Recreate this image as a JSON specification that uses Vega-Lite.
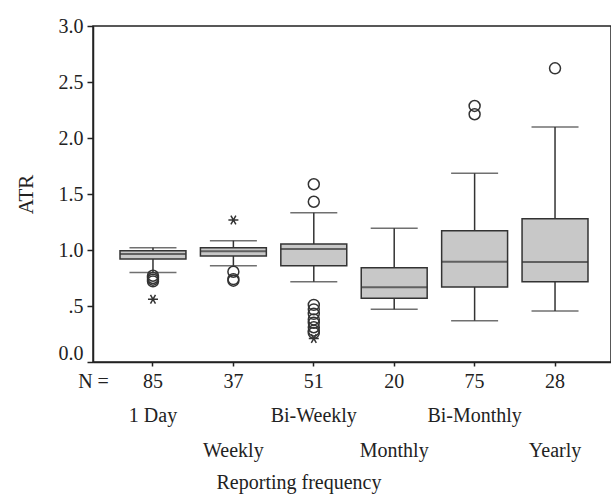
{
  "$schema": "https://vega.github.io/schema/vega-lite/v6.json",
  "autosize": {"type": "none"},
  "padding": {"left": 93, "top": 26, "right": 0, "bottom": 139},
  "width": 518,
  "height": 336,
  "background": "white",
  "config": {
    "view": {"stroke": "#222", "strokeWidth": 1.5},
    "axis": {
      "labelFont": "Liberation Serif", "labelFontSize": 20, "labelColor": "#222",
      "titleFont": "Liberation Serif", "titleFontSize": 20, "titleFontWeight": "normal", "titleColor": "#222",
      "domainColor": "#222", "domainWidth": 1.5, "tickColor": "#222", "tickWidth": 1.5, "grid": false
    }
  },
  "title": {
    "text": "Reporting frequency", "orient": "bottom", "anchor": "middle", "frame": "group",
    "dx": -53, "offset": 13, "font": "Liberation Serif", "fontSize": 20, "fontWeight": "normal", "color": "#222"
  },
  "datasets": {
    "boxes": [
      {"cat": "1 Day", "n": 85, "lo": 0.80, "q1": 0.92, "med": 0.964, "q3": 0.994, "hi": 1.02},
      {"cat": "Weekly", "n": 37, "lo": 0.86, "q1": 0.946, "med": 0.988, "q3": 1.02, "hi": 1.083},
      {"cat": "Bi-Weekly", "n": 51, "lo": 0.717, "q1": 0.86, "med": 1.009, "q3": 1.054, "hi": 1.333},
      {"cat": "Monthly", "n": 20, "lo": 0.471, "q1": 0.569, "med": 0.667, "q3": 0.842, "hi": 1.194},
      {"cat": "Bi-Monthly", "n": 75, "lo": 0.369, "q1": 0.67, "med": 0.896, "q3": 1.172, "hi": 1.685},
      {"cat": "Yearly", "n": 28, "lo": 0.455, "q1": 0.717, "med": 0.893, "q3": 1.279, "hi": 2.098}
    ],
    "outliers": [
      {"cat": "1 Day", "v": 0.77, "kind": "o"},
      {"cat": "1 Day", "v": 0.75, "kind": "o"},
      {"cat": "1 Day", "v": 0.735, "kind": "o"},
      {"cat": "1 Day", "v": 0.72, "kind": "o"},
      {"cat": "1 Day", "v": 0.56, "kind": "*"},
      {"cat": "Weekly", "v": 0.806, "kind": "o"},
      {"cat": "Weekly", "v": 0.74, "kind": "o"},
      {"cat": "Weekly", "v": 0.726, "kind": "o"},
      {"cat": "Weekly", "v": 1.268, "kind": "*"},
      {"cat": "Bi-Weekly", "v": 1.587, "kind": "o"},
      {"cat": "Bi-Weekly", "v": 1.431, "kind": "o"},
      {"cat": "Bi-Weekly", "v": 0.51, "kind": "o"},
      {"cat": "Bi-Weekly", "v": 0.47, "kind": "o"},
      {"cat": "Bi-Weekly", "v": 0.43, "kind": "o"},
      {"cat": "Bi-Weekly", "v": 0.38, "kind": "o"},
      {"cat": "Bi-Weekly", "v": 0.35, "kind": "o"},
      {"cat": "Bi-Weekly", "v": 0.31, "kind": "o"},
      {"cat": "Bi-Weekly", "v": 0.28, "kind": "o"},
      {"cat": "Bi-Weekly", "v": 0.26, "kind": "o"},
      {"cat": "Bi-Weekly", "v": 0.21, "kind": "*"},
      {"cat": "Bi-Monthly", "v": 2.286, "kind": "o"},
      {"cat": "Bi-Monthly", "v": 2.212, "kind": "o"},
      {"cat": "Yearly", "v": 2.622, "kind": "o"}
    ]
  },
  "encoding": {
    "x": {
      "field": "cat", "type": "nominal",
      "scale": {"domain": ["1 Day", "Weekly", "Bi-Weekly", "Monthly", "Bi-Monthly", "Yearly"], "paddingInner": 0.18, "paddingOuter": 0.311, "align": 0.54},
      "axis": {
        "title": "N =", "titleX": 0, "titleY": 19, "titleAlign": "center", "titleBaseline": "middle",
        "labelAngle": 0, "labelBaseline": "top", "labelLineHeight": 34.5, "labelPadding": 5, "tickSize": 4,
        "labelOverlap": false, "labelBound": false, "labelFlush": false, "labelLimit": 0,
        "labelExpr": "datum.value=='1 Day'?['85','1 Day','\u200b']:datum.value=='Weekly'?['37','\u200b','Weekly']:datum.value=='Bi-Weekly'?['51','Bi-Weekly','\u200b']:datum.value=='Monthly'?['20','\u200b','Monthly']:datum.value=='Bi-Monthly'?['75','Bi-Monthly','\u200b']:['28','\u200b','Yearly']"
      }
    },
    "y": {
      "type": "quantitative", "scale": {"domain": [0, 3], "nice": false, "zero": false},
      "axis": {
        "title": "ATR", "values": [0, 0.5, 1, 1.5, 2, 2.5, 3],
        "labelExpr": "datum.value == 0.5 ? '.5' : format(datum.value, '.1f')",
        "tickSize": 6, "labelPadding": 4,
        "labelOffset": {"condition": {"test": "datum.value === 0", "value": -9}, "value": 0},
        "titleAngle": -90, "titleX": -67, "titleY": 168, "titleAlign": "center", "titleBaseline": "middle", "titleFontSize": 21
      }
    }
  },
  "layer": [
    {
      "data": {"name": "boxes"},
      "mark": {"type": "rule", "color": "#333", "strokeWidth": 1.5},
      "encoding": {"y": {"field": "lo"}, "y2": {"field": "hi"}}
    },
    {
      "data": {"name": "boxes"},
      "mark": {"type": "bar", "fill": "#c8c8c8", "stroke": "#333", "strokeWidth": 1.5},
      "encoding": {"y": {"field": "q1"}, "y2": {"field": "q3"}}
    },
    {
      "data": {"name": "boxes"},
      "mark": {"type": "tick", "color": "#333", "thickness": 2, "size": 66},
      "encoding": {"y": {"field": "med"}}
    },
    {
      "data": {"name": "boxes"},
      "mark": {"type": "tick", "color": "#333", "thickness": 1.5, "size": 47},
      "encoding": {"y": {"field": "lo"}}
    },
    {
      "data": {"name": "boxes"},
      "mark": {"type": "tick", "color": "#333", "thickness": 1.5, "size": 47},
      "encoding": {"y": {"field": "hi"}}
    },
    {
      "data": {"name": "outliers"},
      "transform": [{"filter": "datum.kind === 'o'"}],
      "mark": {"type": "point", "shape": "circle", "filled": false, "stroke": "#333", "strokeWidth": 1.5, "size": 120, "opacity": 1},
      "encoding": {"y": {"field": "v"}}
    },
    {
      "data": {"name": "outliers"},
      "transform": [{"filter": "datum.kind === '*'"}],
      "mark": {"type": "point", "shape": "M-1,0L1,0M-0.5,-0.87L0.5,0.87M-0.5,0.87L0.5,-0.87", "filled": false, "stroke": "#333", "strokeWidth": 1.5, "size": 100, "opacity": 1},
      "encoding": {"y": {"field": "v"}}
    }
  ]
}
